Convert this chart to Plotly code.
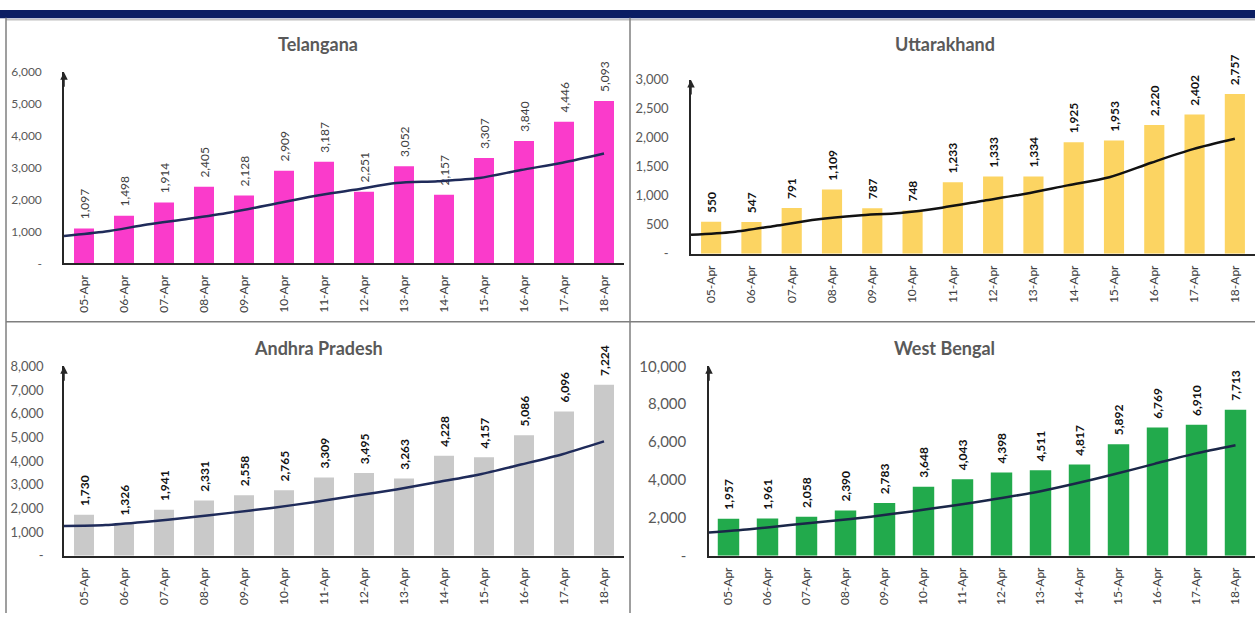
import plotly.graph_objects as go

W, H = 1255, 621

dates = ["05-Apr", "06-Apr", "07-Apr", "08-Apr", "09-Apr", "10-Apr", "11-Apr",
         "12-Apr", "13-Apr", "14-Apr", "15-Apr", "16-Apr", "17-Apr", "18-Apr"]

telangana = [1097, 1498, 1914, 2405, 2128, 2909, 3187, 2251, 3052, 2157, 3307, 3840, 4446, 5093]
uttarakhand = [550, 547, 791, 1109, 787, 748, 1233, 1333, 1334, 1925, 1953, 2220, 2402, 2757]
andhra = [1730, 1326, 1941, 2331, 2558, 2765, 3309, 3495, 3263, 4228, 4157, 5086, 6096, 7224]
west_bengal = [1957, 1961, 2058, 2390, 2783, 3648, 4043, 4398, 4511, 4817, 5892, 6769, 6910, 7713]

# trend lines, 14 points each, drawn on an overlay axis
trend_steps = list(range(14))
tel_trend = [860, 1000, 1220, 1400, 1600, 1850, 2110, 2310, 2520, 2580, 2680, 2930, 3160, 3450]
utt_trend = [326, 375, 480, 590, 660, 705, 795, 915, 1035, 1180, 1320, 1570, 1805, 1983]
and_trend = [1260, 1300, 1440, 1610, 1810, 2020, 2260, 2530, 2800, 3110, 3430, 3850, 4290, 4830]
wb_trend = [1225, 1400, 1620, 1830, 2060, 2340, 2640, 2970, 3330, 3790, 4300, 4850, 5390, 5830]

titles = ["Telangana", "Uttarakhand", "Andhra Pradesh", "West Bengal"]

tel_ticks = [0, 1000, 2000, 3000, 4000, 5000, 6000]
utt_ticks = [0, 500, 1000, 1500, 2000, 2500, 3000]
and_ticks = [0, 1000, 2000, 3000, 4000, 5000, 6000, 7000, 8000]
wb_ticks = [0, 2000, 4000, 6000, 8000, 10000]


def px(x):
    return x / W


def py(y):
    return 1 - y / H


def tick_text(vals):
    return ["-" if v == 0 else f"{v:,}" for v in vals]


FONT = "Lato"

panels = [
    dict(vals=telangana, trend=tel_trend, ticks=tel_ticks, color="#FA3BCB", line="#1F2B5A",
         xd=(64, 624), yd=(261, 64), bold=False, lab_color="#404040", tsize=12, stand=18,
         width=0.5, title_xy=(318, 35)),
    dict(vals=uttarakhand, trend=utt_trend, ticks=utt_ticks, color="#FCD462", line="#111111",
         xd=(691, 1255), yd=(251, 72), bold=True, lab_color="#111111", tsize=13, stand=18,
         width=0.5, title_xy=(945, 35)),
    dict(vals=andhra, trend=and_trend, ticks=and_ticks, color="#C9C9C9", line="#1F2B5A",
         xd=(64, 624), yd=(562, 367), bold=True, lab_color="#111111", tsize=13, stand=16,
         width=0.5, title_xy=(318, 348)),
    dict(vals=west_bengal, trend=wb_trend, ticks=wb_ticks, color="#22AA4C", line="#1A2748",
         xd=(709, 1255), yd=(562, 367), bold=True, lab_color="#111111", tsize=15, stand=18,
         width=0.55, title_xy=(944, 348)),
]

fig = go.Figure()
layout = dict(width=W, height=H, margin=dict(l=0, r=0, t=0, b=0),
              paper_bgcolor="white", plot_bgcolor="rgba(0,0,0,0)",
              showlegend=False, font=dict(family=FONT))
annotations = []
shapes = []

for i, p in enumerate(panels):
    n = i + 1
    xa = "x" if n == 1 else f"x{n}"
    ya = "y" if n == 1 else f"y{n}"
    xo = f"x{n + 4}"
    xk = "xaxis" if n == 1 else f"xaxis{n}"
    yk = "yaxis" if n == 1 else f"yaxis{n}"
    xok = f"xaxis{n + 4}"

    fig.add_trace(go.Bar(
        x=dates, y=p["vals"], xaxis=xa, yaxis=ya, width=p["width"],
        marker=dict(color=p["color"], line=dict(width=0)),
        texttemplate="\u00a0\u00a0%{y:,}", textposition="outside", textangle=-90,
        constraintext="none", cliponaxis=False,
        textfont=dict(family=FONT, size=12, color=p["lab_color"],
                      weight="bold" if p["bold"] else "normal"),
        hoverinfo="skip"))
    fig.add_trace(go.Scatter(
        x=trend_steps, y=p["trend"], xaxis=xo, yaxis=ya, mode="lines",
        line=dict(color=p["line"], width=2.5, shape="spline", smoothing=0.8),
        hoverinfo="skip"))

    layout[xk] = dict(domain=[px(p["xd"][0]), px(p["xd"][1])], anchor=ya,
                      type="category", range=[-0.5, 13.5], showgrid=False, zeroline=False,
                      showline=True, linecolor="#262626", linewidth=2,
                      tickangle=-90, ticks="", ticklabelstandoff=5,
                      tickfont=dict(family=FONT, size=12, color="#404040"))
    layout[xok] = dict(overlaying=xa, anchor=ya, range=[0, 13 * 14 / 13.5], visible=False)
    top = p["ticks"][-1]
    layout[yk] = dict(domain=[py(p["yd"][0]), py(p["yd"][1])], anchor=xa,
                      range=[0, top], showgrid=False, zeroline=False,
                      showline=True, linecolor="#262626", linewidth=1.5,
                      tickvals=p["ticks"], ticktext=tick_text(p["ticks"]),
                      ticks="", ticklabelstandoff=p["stand"],
                      tickfont=dict(family=FONT, size=p["tsize"], color="#595959"))
    annotations.append(dict(xref=f"{xa} domain", yref=f"{ya} domain", x=0, y=1,
                            ax=0, ay=16, text="", showarrow=True, arrowhead=2,
                            arrowsize=1, arrowwidth=1.5, arrowcolor="#262626"))
    annotations.append(dict(xref="paper", yref="paper",
                            x=px(p["title_xy"][0]), y=py(p["title_xy"][1]),
                            text=f"<b>{titles[i]}</b>", showarrow=False,
                            font=dict(family=FONT, size=18, color="#595959"),
                            xanchor="center", yanchor="middle"))

# frame
shapes.append(dict(type="rect", xref="paper", yref="paper", x0=0, x1=1, y0=py(8.5), y1=1,
                   fillcolor="#0B1E63", line=dict(width=0), layer="above"))
border = dict(color="#7F7F7F", width=1.5)
shapes.append(dict(type="line", xref="paper", yref="paper", x0=px(6), x1=1, y0=py(10), y1=py(10),
                   line=dict(color="#BFBFBF", width=1.5)))
shapes.append(dict(type="line", xref="paper", yref="paper", x0=px(6), x1=px(6), y0=0, y1=py(8), line=border))
shapes.append(dict(type="line", xref="paper", yref="paper", x0=px(630), x1=px(630), y0=0, y1=py(8), line=border))
shapes.append(dict(type="line", xref="paper", yref="paper", x0=px(6), x1=1, y0=py(321), y1=py(321), line=border))

layout["annotations"] = annotations
layout["shapes"] = shapes
fig.update_layout(**layout)
fig.write_html(
    "out.html",
    config={"displayModeBar": False, "responsive": False},
    post_script=(
        "document.documentElement.style.margin='0px';"
        "document.body.style.margin='0px';document.body.style.padding='0px';"
        "document.body.style.overflow='hidden';"
        "var d=document.getElementById('{plot_id}');"
        "d.style.position='fixed';d.style.left='0px';d.style.top='0px';"
    ),
)
